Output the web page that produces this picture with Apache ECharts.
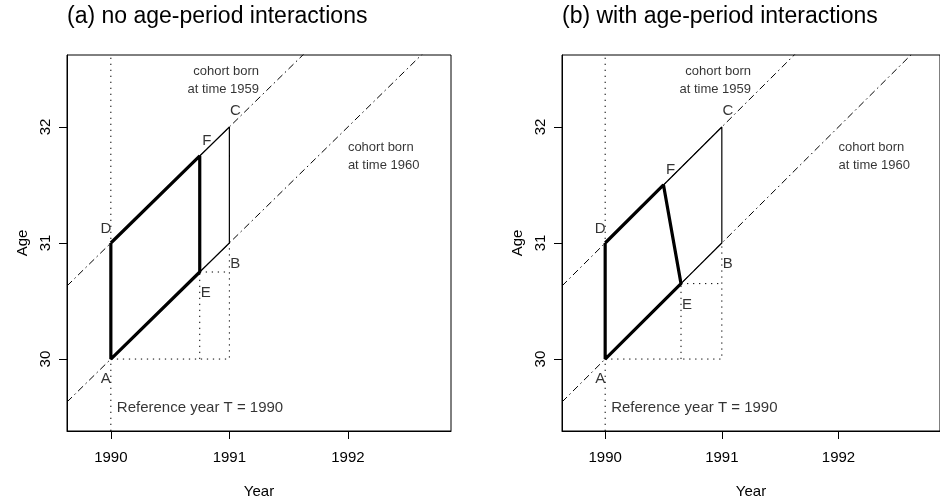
<!DOCTYPE html>
<html><head><meta charset="utf-8">
<script src="https://cdn.jsdelivr.net/npm/echarts@6/dist/echarts.min.js"></script>
<style>html,body{margin:0;padding:0;background:#fff}#c{width:940px;height:504px}</style>
</head><body><div id="c"></div>
<script>
const panelTitles = ['(a) no age-period interactions', '(b) with age-period interactions'];
const xRange = [1989.63, 1992.87];
const yRange = [29.38, 32.62];
const yearTicks = [1990, 1991, 1992];
const ageTicks = [30, 31, 32];
const refYear = 1990;
const cohorts = [1959, 1960];
const cohortLabels = ['cohort born\nat time 1959', 'cohort born\nat time 1960'];
const cohortLabelYears = [1991.25, 1992];
const cohortLabelAges = [32.4, 31.75];
const refLabel = 'Reference year T = 1990';
const refLabelAge = 29.58;
const pointNames = ['A', 'B', 'C', 'D', 'E', 'F'];
const yearsA = [1990, 1991, 1991, 1990, 1990.75, 1990.75];
const agesA = [30, 31, 32, 31, 30.75, 31.75];
const yearsB = [1990, 1991, 1991, 1990, 1990.65, 1990.5];
const agesB = [30, 31, 32, 31, 30.65, 31.5];

const FONT = "'Liberation Sans', Arial, Helvetica, sans-serif";
const labelOffsets = { A: [-5, 20], B: [6, 21], C: [6, -16], D: [-5, -14], E: [6, 21], F: [7, -15] };
const gridLefts = [67, 562];

function lineS(gi, data, width, type, z) {
  return {
    type: 'line', xAxisIndex: gi, yAxisIndex: gi, data: data, symbol: 'none',
    silent: true, animation: false, clip: true, z: z || 2,
    lineStyle: { color: '#000', width: width, type: type, cap: 'butt' }
  };
}

function panelSeries(gi, years, ages) {
  const P = {};
  pointNames.forEach((n, i) => { P[n] = [years[i], ages[i]]; });
  const dotted = [1.3, 4.7];
  const dotdash = [7, 3.5, 1.5, 3.5];
  const s = [];
  s.push(lineS(gi, [[refYear, yRange[0]], [refYear, yRange[1]]], 1, dotted));
  cohorts.forEach(c => {
    s.push(lineS(gi, [[xRange[0], xRange[0] - c], [xRange[1], xRange[1] - c]], 1, dotdash));
  });
  s.push(lineS(gi, [P.A, [P.B[0], P.A[1]], P.B], 1, dotted));
  s.push(lineS(gi, [[P.E[0], P.A[1]], P.E], 1, dotted));
  s.push(lineS(gi, [P.E, [P.B[0], P.E[1]]], 1, dotted));
  s.push(lineS(gi, [P.F, P.C, P.B, P.E], 1.2, 'solid', 3));
  s.push(lineS(gi, [P.D, P.F, P.E, P.A, P.D], 3.2, 'solid', 4));
  s.push({
    type: 'scatter', xAxisIndex: gi, yAxisIndex: gi, symbolSize: 0, silent: true, animation: false, z: 5,
    data: pointNames.map(n => ({
      value: P[n], name: n,
      label: { show: true, position: 'inside', offset: labelOffsets[n], formatter: n,
        color: '#000', fontSize: 15, fontFamily: FONT }
    }))
  });
  s.push({
    type: 'scatter', xAxisIndex: gi, yAxisIndex: gi, symbolSize: 0, silent: true, animation: false, z: 5,
    data: cohortLabels.map((t, i) => ({
      value: [cohortLabelYears[i], cohortLabelAges[i]],
      label: { show: true, position: i === 0 ? 'left' : 'right', distance: 0, formatter: t,
        align: i === 0 ? 'right' : 'left', color: '#000', fontSize: 13, lineHeight: 18, fontFamily: FONT }
    }))
  });
  s.push({
    type: 'scatter', xAxisIndex: gi, yAxisIndex: gi, symbolSize: 0, silent: true, animation: false, z: 5,
    data: [{ value: [refYear, refLabelAge],
      label: { show: true, position: 'right', distance: 6, formatter: refLabel,
        color: '#000', fontSize: 15, fontFamily: FONT } }]
  });
  return s;
}

const chart = echarts.init(document.getElementById('c'), null, { renderer: 'canvas' });
const option = {
  animation: false,
  backgroundColor: '#fff',
  textStyle: { fontFamily: FONT },
  title: panelTitles.map((t, i) => ({
    text: t, left: gridLefts[i], top: 5, padding: 0,
    textStyle: { fontSize: 23, fontWeight: 'normal', color: '#000', fontFamily: FONT }
  })),
  grid: gridLefts.map(l => ({
    left: l, top: 55, width: 384, height: 383, show: true,
    borderColor: '#000', borderWidth: 1, backgroundColor: 'transparent', containLabel: false
  })),
  xAxis: gridLefts.map((l, i) => ({
    type: 'value', gridIndex: i, min: xRange[0], max: xRange[1],
    name: 'Year', nameLocation: 'middle', nameGap: 53,
    nameTextStyle: { fontSize: 15, color: '#000', fontFamily: FONT },
    axisLine: { show: true, onZero: false, lineStyle: { color: '#000', width: 1 } },
    axisTick: { show: true, inside: false, length: 8, customValues: yearTicks, lineStyle: { color: '#000' } },
    axisLabel: { show: true, customValues: yearTicks, margin: 19, fontSize: 15, color: '#000', fontFamily: FONT,
      formatter: v => String(v) },
    splitLine: { show: false }
  })),
  yAxis: gridLefts.map((l, i) => ({
    type: 'value', gridIndex: i, min: yRange[0], max: yRange[1],
    name: 'Age', nameLocation: 'middle', nameGap: 37, nameRotate: 90,
    nameTextStyle: { fontSize: 15, color: '#000', fontFamily: FONT },
    axisLine: { show: true, onZero: false, lineStyle: { color: '#000', width: 1 } },
    axisTick: { show: true, inside: false, length: 8, customValues: ageTicks, lineStyle: { color: '#000' } },
    axisLabel: { show: true, customValues: ageTicks, rotate: 90, margin: 14, fontSize: 15, color: '#000', fontFamily: FONT,
      formatter: v => String(v) },
    splitLine: { show: false }
  })),
  series: [].concat(panelSeries(0, yearsA, agesA), panelSeries(1, yearsB, agesB))
};
chart.setOption(option);
</script>
</body></html>
